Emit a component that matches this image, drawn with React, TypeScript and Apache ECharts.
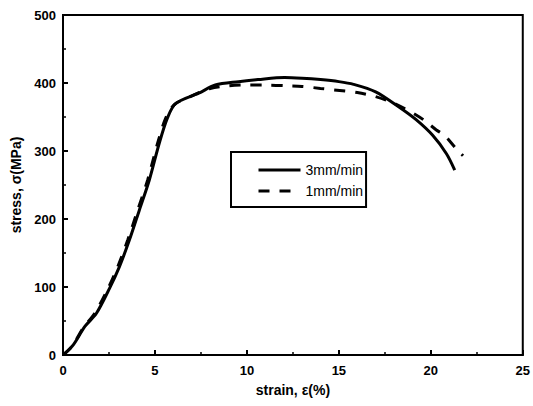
import React, { useEffect, useRef } from "react";
import * as echarts from "echarts";

const seriesNames = ["3mm/min", "1mm/min"];

const strain3: number[] = [0, 0.56, 1.19, 1.81, 2.53, 3.07, 3.61, 4.15, 4.69, 5.23, 5.67, 6.13, 7.38, 8.28, 9.54, 10.6, 12.05, 13, 14, 15, 15.8, 17, 18.25, 19.2, 20.1, 20.85, 21.3];
const stress3: number[] = [0, 15, 42, 61, 98, 130, 169, 213, 257, 311, 348, 370, 385, 397, 402, 405, 408, 407, 405, 402, 398, 387, 365, 346, 323, 296, 272];

const strain1: number[] = [0, 0.5, 1.1, 1.72, 2.45, 2.98, 3.52, 4.06, 4.6, 5.14, 5.58, 6.05, 7.0, 8.0, 9.0, 10.0, 11.0, 12.2, 13.0, 14.0, 14.7, 16.0, 17.0, 18.0, 19.2, 19.7, 20.3, 20.75, 21.3, 21.75];
const stress1: number[] = [0, 13, 40, 61, 98, 130, 169, 213, 257, 311, 348, 368, 381, 392, 396, 397, 397, 396, 395, 392, 390, 386, 380, 370, 353, 344, 331, 323, 306, 293];

const xTicks = { min: 0, max: 25, interval: 5 };
const yTicks = { min: 0, max: 500, interval: 100 };

export default function App() {
  const ref = useRef<HTMLDivElement>(null);
  useEffect(() => {
    if (!ref.current) return;
    const chart = echarts.init(ref.current, null, { renderer: "svg" });
    const font = "Liberation Sans, Arial, sans-serif";
    const axisCommon = {
      axisLine: { show: true, onZero: false, lineStyle: { color: "#000", width: 2 } },
      axisTick: { show: true, inside: true, length: 5, lineStyle: { color: "#000", width: 2 } },
      minorTick: { show: true, splitNumber: 2, length: 3, lineStyle: { color: "#000", width: 1.5 } },
      splitLine: { show: false },
      axisLabel: { color: "#000", fontFamily: font, fontWeight: "bold" as const, fontSize: 13 },
      nameTextStyle: { color: "#000", fontFamily: font, fontWeight: "bold" as const, fontSize: 14 },
    };
    chart.setOption({
      animation: false,
      backgroundColor: "#fff",
      grid: {
        left: 63, right: 6, top: 15, bottom: 51,
        show: true, borderColor: "#000", borderWidth: 2,
      },
      xAxis: {
        type: "value",
        min: xTicks.min, max: xTicks.max, interval: xTicks.interval,
        name: "strain, ε(%)",
        nameLocation: "middle",
        nameGap: 28,
        ...axisCommon,
        axisLabel: { ...axisCommon.axisLabel, margin: 9 },
      },
      yAxis: {
        type: "value",
        min: yTicks.min, max: yTicks.max, interval: yTicks.interval,
        name: "stress, σ(MPa)",
        nameLocation: "middle",
        nameGap: 37,
        ...axisCommon,
        axisLabel: { ...axisCommon.axisLabel, margin: 7 },
      },
      legend: {
        orient: "vertical",
        left: 231,
        top: 152,
        padding: [11, 3, 9, 26],
        borderColor: "#000",
        borderWidth: 2,
        itemWidth: 42,
        itemHeight: 12,
        itemGap: 7,
        itemStyle: { color: "rgba(0,0,0,0)", borderWidth: 0, opacity: 0 },
        lineStyle: { width: 3 },
        textStyle: { color: "#000", fontFamily: font, fontSize: 14 },
        data: seriesNames,
      },
      series: [
        {
          name: seriesNames[0],
          type: "line",
          data: strain3.map((x, i) => [x, stress3[i]]),
          showSymbol: false,
          symbol: "none",
          smooth: 0.3,
          lineStyle: { color: "#000", width: 3 },
          itemStyle: { color: "#000" },
        },
        {
          name: seriesNames[1],
          type: "line",
          data: strain1.map((x, i) => [x, stress1[i]]),
          showSymbol: false,
          symbol: "none",
          smooth: 0.3,
          lineStyle: { color: "#000", width: 3, type: [11, 10] },
          itemStyle: { color: "#000" },
        },
      ],
    });
    return () => chart.dispose();
  }, []);
  return <div ref={ref} style={{ width: 533, height: 406, position: "absolute", left: 0, top: 0 }} />;
}
